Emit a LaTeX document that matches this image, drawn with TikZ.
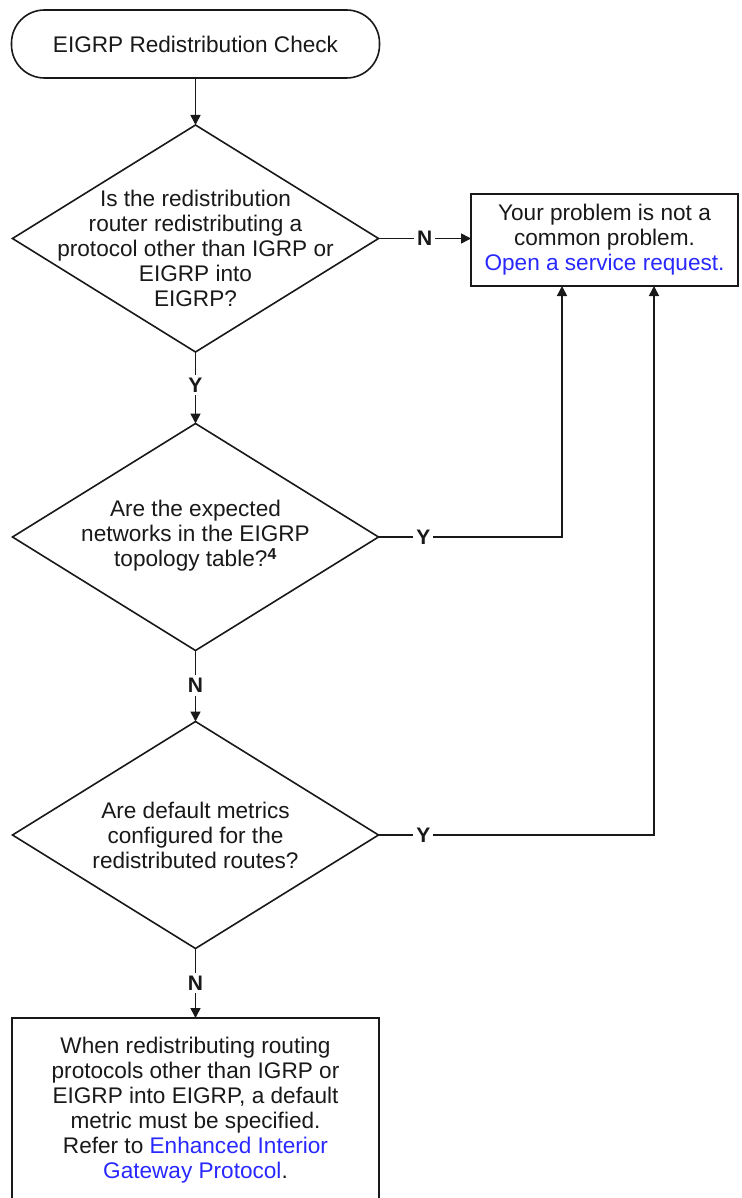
\documentclass[tikz,border=0pt]{standalone}
\usepackage{fontspec}
\setmainfont{Liberation Sans}
\usetikzlibrary{shapes.geometric,arrows.meta}
\definecolor{linkblue}{RGB}{40,40,255}
\definecolor{ink}{RGB}{25,25,25}
\begin{document}
\begin{tikzpicture}[x=1pt,y=-1pt,
  every node/.style={font=\fontsize{22.6}{25}\selectfont, text=ink},
  line/.style={line width=1.6pt, draw=ink},
  arr/.style={line, -{Triangle[length=10pt,width=10pt]}},
  decision/.style={diamond, draw=ink, line width=1.6pt, minimum width=366pt, minimum height=227pt, inner sep=0pt, outer sep=0pt},
  terminal/.style={rectangle, rounded corners=33pt, draw=ink, line width=1.6pt, minimum width=368pt, minimum height=68pt, outer sep=0pt},
  process/.style={rectangle, draw=ink, line width=1.6pt, outer sep=0pt, align=center},
  qtext/.style={align=center, inner sep=0pt},
  lab/.style={fill=white, inner sep=3pt, font=\bfseries\fontsize{21}{21}\selectfont}
]
\useasboundingbox[fill=white] (0,0) rectangle (741,1198);

\node[terminal] (start) at (195.5,44) {EIGRP Redistribution Check};

\node[decision] (d1) at (195.5,238.5) {};
\node[qtext] (t1) at (195.5,248) {Is the redistribution\\router redistributing a\\protocol other than IGRP or\\EIGRP into\\EIGRP?};

\node[decision] (d2) at (195.5,537) {};
\node[qtext] (t2) at (195.5,536) {Are the expected\\networks in the EIGRP\\topology table?\textsuperscript{\textbf{4}}};

\node[decision] (d3) at (195.5,835) {};
\node[qtext] (t3) at (195.5,835) {Are default metrics\\configured for the\\redistributed routes?};

\node[process, minimum width=267pt, minimum height=92pt] (b1) at (604.5,240)
  {Your problem is not a\\common problem.\\\textcolor{linkblue}{Open a service request.}};

\node[process, minimum width=367pt, minimum height=184pt] (b2) at (195.5,1110)
  {When redistributing routing\\protocols other than IGRP or\\EIGRP into EIGRP, a default\\metric must be specified.\\Refer to \textcolor{linkblue}{Enhanced Interior}\\\textcolor{linkblue}{Gateway Protocol}.};

\coordinate (c1) at (562,0);
\coordinate (c2) at (654,0);

\draw[arr] (start.south) -- (d1.north);
\draw[arr] (d1.east) -- node[lab]{N} (d1.east -| b1.west);
\draw[arr] (d1.south) -- node[lab,pos=0.46]{Y} (d2.north);
\draw[arr] (d2.east) -- node[lab,pos=0.245]{Y} (d2.east -| c1) -- (c1 |- b1.south);
\draw[arr] (d2.south) -- node[lab,pos=0.49]{N} (d3.north);
\draw[arr] (d3.east) -- node[lab,pos=0.163]{Y} (d3.east -| c2) -- (c2 |- b1.south);
\draw[arr] (d3.south) -- node[lab]{N} (b2.north);
\end{tikzpicture}
\end{document}
